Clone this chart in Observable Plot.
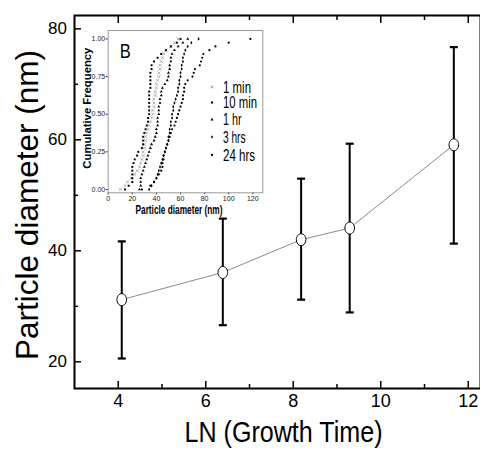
<!DOCTYPE html>
<html><head><meta charset="utf-8">
<script src="https://cdn.jsdelivr.net/npm/d3@7"></script>
<script src="https://cdn.jsdelivr.net/npm/@observablehq/plot@0.6"></script>
<style>
body{margin:0;background:#fff;}
#wrap{position:relative;width:480px;height:450px;font-family:"Liberation Sans",Arial,sans-serif;}
#wrap svg{position:absolute;left:0;top:0;overflow:visible;}
</style></head><body><div id="wrap"></div>
<script>
// ---- main chart data ----
const lnTime = [4.08, 6.39, 8.18, 9.29, 11.67];
const meanDiameter = [31.2, 36.1, 42.0, 44.1, 59.1];
const errLow = [20.6, 26.6, 31.2, 28.9, 41.3];
const errHigh = [41.7, 45.8, 53.0, 59.3, 76.7];
const xMajorTicks = [4, 6, 8, 10, 12];
const xMinorTicks = [5, 7, 9, 11];
const yMajorTicks = [20, 40, 60, 80];
const yMinorTicks = [30, 50, 70];

// ---- inset data (particle diameters, nm) ----
const insetSeries = ["1 min", "10 min", "1 hr", "3 hrs", "24 hrs"];
const d1min = [10,14,16,19,22,24,26,27,28,29,29,30,30,31,31,32,33,34,35,36,37,37,38,38,38,39,39,40,40,41,42,42,43,43,44,45,46,48,52,55,58];
const d10min = [14,17,20,20,20,20,20,21,22,24,25,28,29,29,29,30,31,32,33,33,34,34,34,34,34,34,34,35,35,35,35,35,36,36,38,41,44,48,52,57,60];
const d1hr = [26,27,27,27,28,29,30,31,32,33,34,35,36,38,39,40,40,41,41,41,42,42,42,43,43,44,44,45,47,49,50,50,51,51,52,52,53,55,58,62,66];
const d3hrs = [34,36,38,40,41,42,43,44,45,46,47,48,49,50,50,51,51,52,52,53,53,54,54,55,56,57,58,58,59,59,60,60,61,61,62,62,63,64,66,69,75];
const d24hrs = [28,35,38,40,42,44,45,45,46,46,47,48,49,50,51,52,53,55,56,57,58,59,60,61,62,62,63,63,64,66,70,71,72,76,77,78,79,84,89,100,118];
const insetXTicks = [0, 20, 40, 60, 80, 100, 120];
const insetYTicks = [0, 0.25, 0.5, 0.75, 1];

const mainData = lnTime.map((x, i) => ({x, y: meanDiameter[i], lo: errLow[i], hi: errHigh[i]}));
const seriesDiam = [d1min, d10min, d1hr, d3hrs, d24hrs];
const insetData = [];
seriesDiam.forEach((arr, s) => {
  const sorted = arr.slice().sort((a, b) => a - b);
  sorted.forEach((d, i) => insetData.push({series: insetSeries[s], d, f: i / (sorted.length - 1)}));
});

const capSymbol = {draw(ctx, size) { const r = Math.sqrt(size / Math.PI); ctx.moveTo(-r, 0); ctx.lineTo(r, 0); }};
const ellipseSymbol = {draw(ctx, size) {
  const r = Math.sqrt(size / Math.PI), rx = r * 0.8, ry = r, k = 0.5523;
  ctx.moveTo(rx, 0);
  ctx.bezierCurveTo(rx, ry * k, rx * k, ry, 0, ry);
  ctx.bezierCurveTo(-rx * k, ry, -rx, ry * k, -rx, 0);
  ctx.bezierCurveTo(-rx, -ry * k, -rx * k, -ry, 0, -ry);
  ctx.bezierCurveTo(rx * k, -ry, rx, -ry * k, rx, 0);
  ctx.closePath();
}};
const blank = () => "";

const font = '"Liberation Sans", Arial, sans-serif';
const main = Plot.plot({
  width: 480, height: 450,
  marginLeft: 74, marginRight: 0, marginTop: 15, marginBottom: 62,
  x: {domain: [3, 12.28]},
  y: {domain: [15.19, 82.4]},
  style: {fontFamily: font, background: "transparent", color: "black"},
  marks: [
    Plot.axisX(xMajorTicks, {anchor: "bottom", tickSize: -7, tickPadding: 13, label: null, fontSize: 18, strokeWidth: 1.5}),
    Plot.axisX(xMinorTicks, {anchor: "bottom", tickSize: -4, tickFormat: blank, label: null, strokeWidth: 1.5}),
    Plot.axisX(xMajorTicks, {anchor: "top", tickSize: -7, tickFormat: blank, label: null, strokeWidth: 1.5}),
    Plot.axisX(xMinorTicks, {anchor: "top", tickSize: -4, tickFormat: blank, label: null, strokeWidth: 1.5}),
    Plot.axisY(yMajorTicks, {anchor: "left", tickSize: -7, tickPadding: 14.5, label: null, fontSize: 17, strokeWidth: 1.5}),
    Plot.axisY(yMinorTicks, {anchor: "left", tickSize: -4, tickFormat: blank, label: null, strokeWidth: 1.5}),
    Plot.frame({stroke: "black", strokeWidth: 2}),
    Plot.line(mainData, {x: "x", y: "y", stroke: "#8a8a8a", strokeWidth: 1}),
    Plot.ruleX(mainData, {x: "x", y1: "lo", y2: "hi", stroke: "black", strokeWidth: 2}),
    Plot.dot(mainData, {x: "x", y: "lo", symbol: capSymbol, r: 4, stroke: "black", strokeWidth: 2.2}),
    Plot.dot(mainData, {x: "x", y: "hi", symbol: capSymbol, r: 4, stroke: "black", strokeWidth: 2.2}),
    Plot.dot(mainData, {x: "x", y: "y", symbol: ellipseSymbol, r: 6, fill: "white", stroke: "black", strokeWidth: 1}),
    Plot.text(["Particle diameter (nm)"], {frameAnchor: "left", textAnchor: "middle", dx: -47, dy: 3, rotate: -90, fontSize: 31.5, fill: "black"}),
    Plot.text(["LN (Growth Time)"], {frameAnchor: "bottom", textAnchor: "middle", dx: 6, dy: 53, fontSize: 29, fill: "black"})
  ]
});

const symbolOf = {"1 min": "times", "10 min": "square", "1 hr": "triangle", "3 hrs": "diamond", "24 hrs": "circle"};
const inset = Plot.plot({
  width: 480, height: 450,
  marginLeft: 107.7, marginRight: 217.7, marginTop: 30, marginBottom: 257.7,
  x: {domain: [0, 128.3]},
  y: {domain: [-0.022, 1.056]},
  style: {fontFamily: font, background: "transparent", color: "#222"},
  marks: [
    Plot.axisX(insetXTicks, {anchor: "bottom", tickSize: 2, tickPadding: 1, label: null, fontSize: 7}),
    Plot.axisY(insetYTicks, {anchor: "left", tickSize: 2, tickPadding: 1, label: null, fontSize: 7, tickFormat: d3.format(".2f")}),
    Plot.frame({stroke: "#999", strokeWidth: 1}),
    Plot.dot(insetData.filter(d => d.series === "1 min"), {x: "d", y: "f", symbol: "times", r: 1.4, stroke: "#9a9a9a", strokeWidth: 0.8}),
    Plot.dot(insetData.filter(d => d.series !== "1 min"), {x: "d", y: "f", symbol: d => symbolOf[d.series], r: 1.1, fill: "black", stroke: "none"}),
    Plot.text(["Cumulative Frequency"], {frameAnchor: "left", textAnchor: "middle", dx: -21, dy: -3.5, rotate: -90, fontSize: 11, fontWeight: "bold", fill: "black"}),
    Plot.text(["Particle diameter (nm)"], {frameAnchor: "bottom", textAnchor: "middle", dx: -6.5, dy: 21, fontSize: 12, fontWeight: "bold", fill: "black"}),
    Plot.text(["B"], {frameAnchor: "top-left", dx: 11.5, dy: 13, fontSize: 21, fill: "black"})
  ]
});

const wrap = document.getElementById("wrap");
wrap.appendChild(main);
wrap.appendChild(inset);

// legend inside inset
const legendY = [87, 102.5, 119.5, 137, 155];
const lg = d3.select(inset).append("g").attr("font-family", font).attr("text-anchor", "start");
insetSeries.forEach((name, i) => {
  lg.append("path")
    .attr("transform", `translate(212,${legendY[i]})`)
    .attr("d", d3.symbol(d3["symbol" + symbolOf[name][0].toUpperCase() + symbolOf[name].slice(1)], i === 0 ? 6 : 4)())
    .attr("fill", i === 0 ? "none" : "black")
    .attr("stroke", i === 0 ? "#9a9a9a" : "none")
    .attr("stroke-width", 0.8);
  lg.append("text").attr("x", 223).attr("y", legendY[i]).attr("dy", "0.36em")
    .attr("text-anchor", "start")
    .attr("font-size", 16).attr("fill", "black").attr("class", "lgt").text(name);
});

function squeeze(svg, txt, len) {
  svg.querySelectorAll("text").forEach(t => {
    if (t.textContent === txt) { t.setAttribute("textLength", len); t.setAttribute("lengthAdjust", "spacingAndGlyphs"); }
  });
}
squeeze(main, "LN (Growth Time)", 198);
squeeze(inset, "Particle diameter (nm)", 87);
squeeze(inset, "Cumulative Frequency", 121);
squeeze(inset, "B", 11);
const legendLen = {"1 min": 28, "10 min": 34, "1 hr": 18.5, "3 hrs": 22.5, "24 hrs": 32};
inset.querySelectorAll("text.lgt").forEach(t => { t.setAttribute("textLength", legendLen[t.textContent]); t.setAttribute("lengthAdjust", "spacingAndGlyphs"); });
</script></body></html>
